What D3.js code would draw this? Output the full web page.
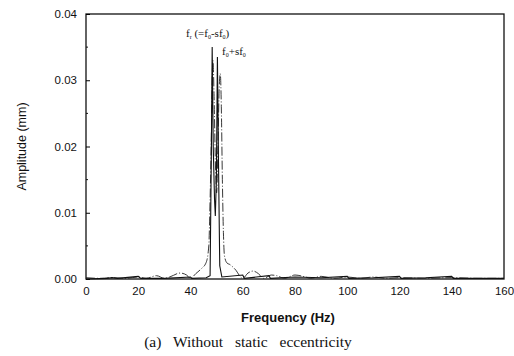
<!DOCTYPE html>
<html>
<head>
<meta charset="utf-8">
<script src="https://cdn.jsdelivr.net/npm/d3@7"></script>
<style>
  body { margin: 0; background: #fff; }
  text { fill: #111; }
</style>
</head>
<body>
<div id="container"></div>
<script>
/* CONSTANTS AND DATA */
const width = 514,
  height = 356,
  margin = { top: 14, right: 10, bottom: 77, left: 86 };

const yTicks = [0, 0.01, 0.02, 0.03, 0.04];
const xTicks = [0, 20, 40, 60, 80, 100, 120, 140, 160];

// envelope curve (thin dash-dot line)
const envFreq = [0, 5, 10, 15, 20, 23, 27, 30, 32, 36, 38.5, 40, 42, 44, 46, 47, 47.5, 48, 48.3, 48.6, 49, 49.5, 50,
  50.5, 51, 51.4, 51.8, 52.2, 52.6, 53, 54, 55, 57, 60, 62, 64, 66, 68, 71, 73, 76, 80, 84, 86, 90, 95,
  100, 105, 110, 115, 120, 130, 140, 150, 160];
const envAmp = [0.0002, 0.0001, 0.0002, 0.0001, 0.0003, 0.0001, 0.0005, 0.0001, 0.0003, 0.0009, 0.0006, 0.0001,
  0.0008, 0.0015, 0.0025, 0.005, 0.012, 0.022, 0.030, 0.033, 0.028, 0.018, 0.013,
  0.020, 0.029, 0.031, 0.026, 0.015, 0.007, 0.0035, 0.0024, 0.0022, 0.0015, 0.0001, 0.0009, 0.0012, 0.0008,
  0.0001, 0.0006, 0.0005, 0.0001, 0.0006, 0.0003, 0.0001, 0.0004, 0.0001,
  0.0003, 0.0001, 0.0003, 0.0001, 0.0002, 0.0001, 0.0002, 0.0001, 0.0001];

// spectrum (solid line)
const specFreq = [0, 8, 10, 12, 20, 21, 30, 40, 40.5, 46, 47.5, 48, 48.3, 48.7, 49.2, 49.5, 49.9, 50.3, 50.7,
  51.2, 52, 60, 60.6, 70, 70.6, 80, 90, 100, 100.6, 110, 120, 120.6, 130, 140, 140.6, 150, 160];
const specAmp = [0, 0.0001, 0.0002, 0.0001, 0.0004, 0.0001, 0.0001, 0.0003, 0.0001, 0.0002, 0.0005, 0.020,
  0.035, 0.020, 0.012, 0.0095, 0.015, 0.0335, 0.018,
  0.002, 0.0003, 0.0006, 0.0001, 0.0005, 0.0001, 0.0003, 0.0002, 0.0004, 0.0001, 0.0002, 0.0004, 0.0001,
  0.0002, 0.0004, 0.0001, 0.0001, 0.0001];

const envData = envFreq.map((f, i) => ({ f, a: envAmp[i] }));
const specData = specFreq.map((f, i) => ({ f, a: specAmp[i] }));

/* SCALES */
const xScale = d3.scaleLinear().domain([0, 160]).range([margin.left, width - margin.right]);
const yScale = d3.scaleLinear().domain([0, 0.04]).range([height - margin.bottom, margin.top]);
const y0 = yScale(0);

const svg = d3.select("#container").append("svg")
  .attr("width", width)
  .attr("height", height);

/* FRAME */
svg.append("rect")
  .attr("x", xScale(0)).attr("y", yScale(0.04))
  .attr("width", xScale(160) - xScale(0))
  .attr("height", y0 - yScale(0.04))
  .attr("fill", "none").attr("stroke", "#111").attr("stroke-width", 1.3);

/* AXES */
const yAxis = d3.axisLeft(yScale)
  .tickValues(yTicks)
  .tickFormat(d3.format(".2f"))
  .tickSize(-4)
  .tickPadding(9);

svg.append("g")
  .attr("class", "y-axis")
  .attr("transform", `translate(${xScale(0)},0)`)
  .call(yAxis)
  .call(g => g.select(".domain").remove())
  .call(g => g.selectAll("text").attr("font-family", "Liberation Sans, Arial, sans-serif").attr("font-size", 11.5));

// minor y ticks
svg.append("g")
  .selectAll("line")
  .data([0.005, 0.015, 0.025, 0.035])
  .join("line")
  .attr("x1", xScale(0)).attr("x2", xScale(0) + 2)
  .attr("y1", d => yScale(d)).attr("y2", d => yScale(d))
  .attr("stroke", "#111");

const xAxis = d3.axisBottom(xScale)
  .tickValues(xTicks)
  .tickSize(0)
  .tickPadding(8);

svg.append("g")
  .attr("class", "x-axis")
  .attr("transform", `translate(0,${y0})`)
  .call(xAxis)
  .call(g => g.select(".domain").remove())
  .call(g => g.selectAll("text").attr("font-family", "Liberation Sans, Arial, sans-serif").attr("font-size", 11.5));

/* LINES */
const envLine = d3.line()
  .x(d => xScale(d.f))
  .y(d => yScale(d.a))
  .curve(d3.curveMonotoneX);

svg.append("path")
  .datum(envData)
  .attr("fill", "none")
  .attr("stroke", "#222")
  .attr("stroke-width", 0.9)
  .attr("stroke-dasharray", "9,2,1,2")
  .attr("d", envLine);

const specLine = d3.line()
  .x(d => xScale(d.f))
  .y(d => yScale(d.a));

svg.append("path")
  .datum(specData)
  .attr("fill", "none")
  .attr("stroke", "#111")
  .attr("stroke-width", 1.1)
  .attr("d", specLine);

/* ANNOTATIONS */
const note = svg.append("g")
  .attr("font-family", "Liberation Serif, Times New Roman, serif")
  .attr("font-size", 11);

const t1 = note.append("text").attr("x", 186).attr("y", 37);
t1.append("tspan").text("f");
t1.append("tspan").attr("font-size", 6).attr("dy", 2).text("r");
t1.append("tspan").attr("dy", -2).text(" (=f");
t1.append("tspan").attr("font-size", 6).attr("dy", 2).text("0");
t1.append("tspan").attr("dy", -2).text("-sf");
t1.append("tspan").attr("font-size", 6).attr("dy", 2).text("0");
t1.append("tspan").attr("dy", -2).text(")");

const t2 = note.append("text").attr("x", 222).attr("y", 55);
t2.append("tspan").text("f");
t2.append("tspan").attr("font-size", 6).attr("dy", 2).text("0");
t2.append("tspan").attr("dy", -2).text("+sf");
t2.append("tspan").attr("font-size", 6).attr("dy", 2).text("0");

/* TITLES */
svg.append("text")
  .attr("transform", `translate(26,${(yScale(0.04) + y0) / 2}) rotate(-90)`)
  .attr("text-anchor", "middle")
  .attr("font-family", "Liberation Sans, Arial, sans-serif")
  .attr("font-size", 12.5)
  .text("Amplitude (mm)");

svg.append("text")
  .attr("x", 288).attr("y", 322)
  .attr("text-anchor", "middle")
  .attr("font-family", "Liberation Sans, Arial, sans-serif")
  .attr("font-size", 13)
  .attr("font-weight", "bold")
  .text("Frequency (Hz)");

svg.append("text")
  .attr("x", 248).attr("y", 347)
  .attr("text-anchor", "middle")
  .attr("font-family", "Liberation Serif, Times New Roman, serif")
  .attr("font-size", 15.5)
  .attr("word-spacing", 8)
  .text("(a) Without static eccentricity");
</script>
</body>
</html>
